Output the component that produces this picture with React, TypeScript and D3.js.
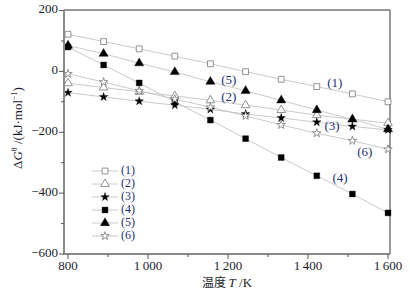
import React from "react";
import * as d3 from "d3";

const temperatures = [800, 889, 978, 1067, 1156, 1244, 1333, 1422, 1511, 1600];
const series1 = [122, 98, 74, 50, 25, -1, -26, -50, -74, -100];
const series2 = [-39, -53, -67, -81, -95, -111, -127, -144, -157, -170];
const series3 = [-70, -84, -98, -111, -125, -140, -153, -167, -181, -192];
const series4 = [80, 21, -38, -100, -160, -221, -283, -343, -403, -465];
const series5 = [85, 58, 27, -2, -34, -64, -95, -127, -158, -190];
const series6 = [-8, -35, -64, -91, -118, -146, -176, -203, -228, -256];
const seriesNames = ["(1)", "(2)", "(3)", "(4)", "(5)", "(6)"];
const xTicks = [800, 1000, 1200, 1400, 1600];
const xMinor = [900, 1100, 1300, 1500];
const yTicks = [200, 0, -200, -400, -600];
const yMinor = [100, -100, -300, -500];

type Spec = { values: number[]; shape: d3.SymbolType; filled: boolean; size: number; label: [number, number] };

const W = 410, H = 295;
const L = 64, R = 390, T = 10, B = 254;

export default function App() {
  const x = d3.scaleLinear().domain([790, 1605]).range([L, R]);
  const y = d3.scaleLinear().domain([-600, 200]).range([B, 10.5]);
  const specs: Spec[] = [
    { values: series1, shape: d3.symbolSquare, filled: false, size: 34, label: [1467, -43] },
    { values: series2, shape: d3.symbolTriangle, filled: false, size: 32, label: [1202, -87] },
    { values: series3, shape: d3.symbolStar, filled: true, size: 22, label: [1460, -184] },
    { values: series4, shape: d3.symbolSquare, filled: true, size: 34, label: [1480, -354] },
    { values: series5, shape: d3.symbolTriangle, filled: true, size: 36, label: [1202, -33] },
    { values: series6, shape: d3.symbolStar, filled: false, size: 22, label: [1542, -269] },
  ];
  const line = d3.line<number>().x((_, i) => x(temperatures[i])).y((v) => y(v));
  const serif = "'Liberation Serif', 'DejaVu Serif', serif";
  const textColor = "#1c1c2c";
  const labelColor = "#243070";
  const legendY = d3.scaleLinear().domain([0, 5]).range([171, 236]);

  return (
    <svg width={W} height={H} style={{ position: "absolute", left: 0, top: 0, background: "#fff" }} fontFamily={serif}>
      <rect x={0} y={0} width={W} height={H} fill="#fff" />
      <line x1={L} x2={R} y1={T} y2={T} stroke="#333" strokeWidth={1} />
      <line x1={R} x2={R} y1={T} y2={B} stroke="#333" strokeWidth={1} />
      {specs.map((s, k) => (
        <path key={"l" + k} d={line(s.values) || ""} fill="none" stroke="#c4c4c4" strokeWidth={0.9} />
      ))}
      {specs.map((s, k) =>
        s.values.map((v, i) => (
          <path
            key={"m" + k + "-" + i}
            d={d3.symbol().type(s.shape).size(s.size)() || ""}
            transform={`translate(${x(temperatures[i])},${y(v)})`}
            fill={s.filled ? "#000" : "#fff"}
            stroke={s.filled ? "#000" : "#777"}
            strokeWidth={s.filled ? 0.4 : 0.8}
          />
        ))
      )}
      {specs.map((s, k) => (
        <text key={"t" + k} x={x(s.label[0])} y={y(s.label[1])} fontSize={13} fill={labelColor} textAnchor="middle" dominantBaseline="middle">
          {seriesNames[k]}
        </text>
      ))}
      <line x1={L} x2={L} y1={T} y2={B + 1} stroke="#8a8a8a" strokeWidth={2} />
      <line x1={L - 1} x2={R} y1={B} y2={B} stroke="#8a8a8a" strokeWidth={2} />
      {yTicks.map((t) => (
        <g key={"yt" + t}>
          <line x1={L - 5} x2={L} y1={y(t)} y2={y(t)} stroke="#555" strokeWidth={1} />
          <text x={L - 6} y={y(t)} fontSize={13} fill={textColor} textAnchor="end" dominantBaseline="middle">
            {t < 0 ? "\u2212" + Math.abs(t) : String(t)}
          </text>
        </g>
      ))}
      {yMinor.map((t) => (
        <line key={"ym" + t} x1={L - 3} x2={L} y1={y(t)} y2={y(t)} stroke="#555" strokeWidth={1} />
      ))}
      {xTicks.map((t) => (
        <g key={"xt" + t}>
          <line x1={x(t)} x2={x(t)} y1={B} y2={B + 5} stroke="#555" strokeWidth={1} />
          <text x={x(t)} y={B + 16} fontSize={13} fill={textColor} textAnchor="middle">
            {t >= 1000 ? d3.format(",")(t).replace(",", "\u2009") : String(t)}
          </text>
        </g>
      ))}
      {xMinor.map((t) => (
        <line key={"xm" + t} x1={x(t)} x2={x(t)} y1={B} y2={B + 3} stroke="#555" strokeWidth={1} />
      ))}
      <text x={227} y={287} fontSize={13} fill={textColor} textAnchor="middle">
        <tspan fontFamily="'Noto Sans CJK SC', sans-serif" fontSize={12}>温度 </tspan>
        <tspan fontStyle="italic">T</tspan>
        <tspan> /K</tspan>
      </text>
      <text transform={`translate(22,${(T + B) / 2 - 4}) rotate(-90)`} fontSize={13} fill={textColor} textAnchor="middle">
        <tspan>Δ</tspan>
        <tspan fontStyle="italic">G</tspan>
        <tspan fontSize={8} dy={-5}>θ</tspan>
        <tspan dy={5}> /(kJ·mol</tspan>
        <tspan fontSize={8} dy={-5}>−1</tspan>
        <tspan dy={5}>)</tspan>
      </text>
      {specs.map((s, k) => (
        <g key={"lg" + k} transform={`translate(0,${legendY(k)})`}>
          <line x1={92} x2={118} y1={0} y2={0} stroke="#c4c4c4" strokeWidth={0.9} />
          <path
            d={d3.symbol().type(s.shape).size(s.size)() || ""}
            transform="translate(105,0)"
            fill={s.filled ? "#000" : "#fff"}
            stroke={s.filled ? "#000" : "#777"}
            strokeWidth={s.filled ? 0.4 : 0.8}
          />
          <text x={121} y={0} fontSize={12} fill={labelColor} dominantBaseline="middle">
            {seriesNames[k]}
          </text>
        </g>
      ))}
    </svg>
  );
}
